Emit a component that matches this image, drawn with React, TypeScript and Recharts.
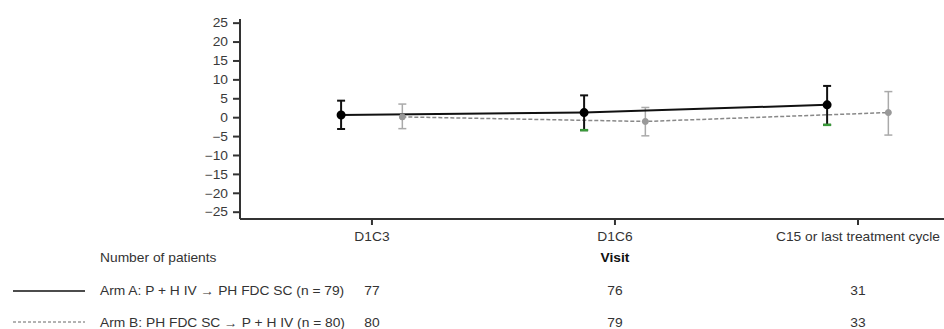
import React from 'react';
import { ComposedChart, Line, Scatter, XAxis, YAxis, ErrorBar } from 'recharts';

const visits = ['D1C3', 'D1C6', 'C15 or last treatment cycle'];
const armAMean = [0.7, 1.35, 3.4];
const armALower = [-3.0, -3.3, -1.9];
const armAUpper = [4.5, 5.9, 8.4];
const armBMean = [0.2, -1.0, 1.35];
const armBLower = [-2.9, -4.8, -4.6];
const armBUpper = [3.6, 2.7, 6.9];
const armACount = [77, 76, 31];
const armBCount = [80, 79, 33];
const greenCapVisits = [1, 2];
const yTicks = [-25, -20, -15, -10, -5, 0, 5, 10, 15, 20, 25];
const armALabel = 'Arm A: P + H IV \u2192 PH FDC SC (n = 79)';
const armBLabel = 'Arm B: PH FDC SC \u2192 P + H IV (n = 80)';

const OFFSET_A = -0.127;
const OFFSET_B = 0.125;
const FONT = "'Liberation Sans', Arial, sans-serif";
const SX = 1.15;

const dataA = visits.map((v, i) => ({
  x: i + 1 + OFFSET_A,
  y: armAMean[i],
  err: [armAMean[i] - armALower[i], armAUpper[i] - armAMean[i]],
}));
const dataB = visits.map((v, i) => ({
  x: i + 1 + OFFSET_B,
  y: armBMean[i],
  err: [armBMean[i] - armBLower[i], armBUpper[i] - armBMean[i]],
}));
const greenCaps = greenCapVisits.map((i) => ({ x: i + 1 + OFFSET_A, y: armALower[i] }));

const fmtY = (v: number) => (v < 0 ? '\u2212' + Math.abs(v) : String(v));

const T = (p: { x: number; y: number; anchor?: string; bold?: boolean; fill?: string; children: any }) => (
  <text
    transform={`translate(${p.x},${p.y}) scale(${SX},1)`}
    x={0}
    y={0}
    textAnchor={p.anchor || 'start'}
    fontFamily={FONT}
    fontSize={12}
    fontWeight={p.bold ? 'bold' : 'normal'}
    fill={p.fill || '#333'}
  >
    {p.children}
  </text>
);

const VisitTick = (props: any) => {
  const { x, y, payload } = props;
  const i = Math.round(payload.value) - 1;
  return (
    <g>
      <T x={x} y={y + 14} anchor="middle">{visits[i]}</T>
      {i === 1 && (
        <T x={x} y={y + 34.5} anchor="middle" bold fill="#111">Visit</T>
      )}
      <T x={x} y={y + 68} anchor="middle">{armACount[i]}</T>
      <T x={x} y={y + 100} anchor="middle">{armBCount[i]}</T>
    </g>
  );
};

const YTick = (props: any) => {
  const { x, y, payload } = props;
  return (
    <T x={x} y={y + 4.3} anchor="end" fill="#3a3a3a">{fmtY(payload.value)}</T>
  );
};

const GreenCap = (props: any) => {
  const { cx, cy } = props;
  return <line x1={cx - 4} x2={cx + 4} y1={cy} y2={cy} stroke="#3a9a3a" strokeWidth={2.5} />;
};

const GrayDot = (props: any) => {
  const { cx, cy } = props;
  return <circle cx={cx} cy={cy} r={3} fill="#999" stroke="#999" />;
};

export default function App() {
  return (
    <div style={{ position: 'absolute', left: 0, top: 0, width: 944, height: 329, background: '#fff' }}>
      <ComposedChart width={944} height={329} margin={{ top: 19, right: 0, left: 0, bottom: 0 }}>
        <XAxis
          type="number"
          dataKey="x"
          domain={[0.457, 3.354]}
          ticks={[1, 2, 3]}
          interval={0}
          allowDataOverflow
          height={110}
          tickSize={6}
          tickMargin={2}
          stroke="#333"
          strokeWidth={2}
          tick={<VisitTick />}
        />
        <YAxis
          type="number"
          dataKey="y"
          domain={[-26.8, 26.1]}
          ticks={yTicks}
          interval={0}
          allowDataOverflow
          width={240}
          tickSize={7}
          tickMargin={5}
          stroke="#333"
          strokeWidth={2}
          tick={<YTick />}
        />
        <Line
          data={dataB}
          dataKey="y"
          stroke="#888"
          strokeWidth={1.5}
          strokeDasharray="4 2"
          dot={<GrayDot />}
          isAnimationActive={false}
        >
          <ErrorBar dataKey="err" width={4} stroke="#aaa" strokeWidth={1.5} direction="y" />
        </Line>
        <Line
          data={dataA}
          dataKey="y"
          stroke="#111"
          strokeWidth={2}
          dot={{ r: 3.5, fill: '#000', stroke: '#000' }}
          isAnimationActive={false}
        >
          <ErrorBar dataKey="err" width={4} stroke="#111" strokeWidth={2} direction="y" />
        </Line>
        <Scatter data={greenCaps} dataKey="y" shape={<GreenCap />} isAnimationActive={false} />
      </ComposedChart>
      <svg width={944} height={329} style={{ position: 'absolute', left: 0, top: 0, pointerEvents: 'none' }}>
        <T x={100} y={262}>Number of patients</T>
        <line x1={13} x2={85} y1={291} y2={291} stroke="#111" strokeWidth={1.5} />
        <T x={100} y={295}>{armALabel}</T>
        <line x1={13} x2={85} y1={322} y2={322} stroke="#666" strokeWidth={1} strokeDasharray="3 2" />
        <T x={100} y={327}>{armBLabel}</T>
      </svg>
    </div>
  );
}
